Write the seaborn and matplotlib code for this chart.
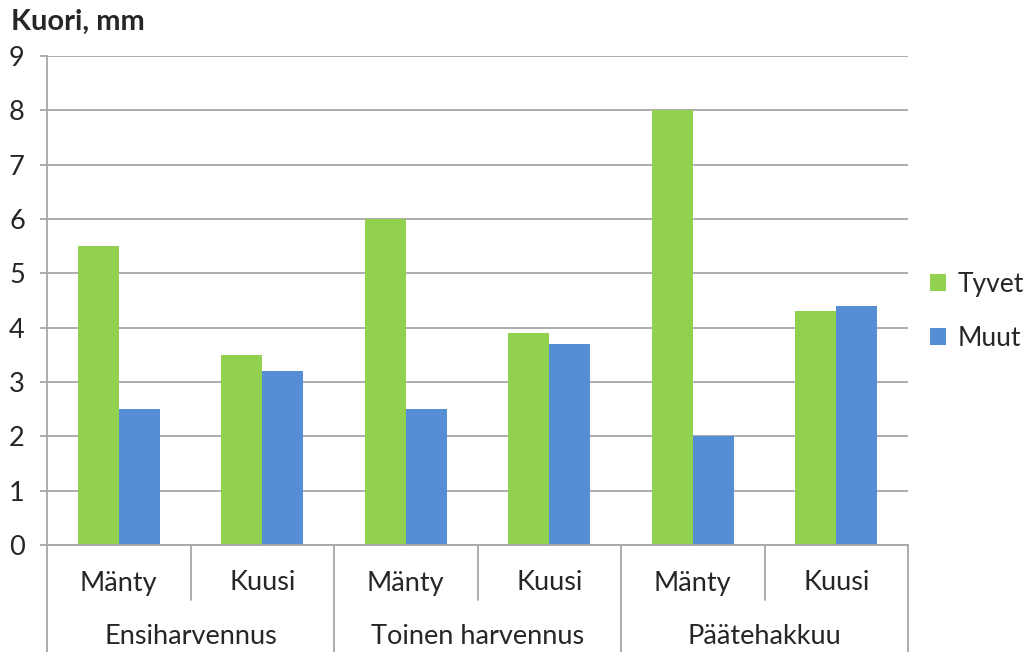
import pandas as pd
import numpy as np
import matplotlib.pyplot as plt
import seaborn as sns

# ── Data ───────────────────────────────────────────────────────────────────────
groups = ['Ensiharvennus', 'Toinen harvennus', 'Päätehakkuu']
species = ['Mänty', 'Kuusi']
tyvet = [5.5, 3.5, 6.0, 3.9, 8.0, 4.3]
muut = [2.5, 3.2, 2.5, 3.7, 2.0, 4.4]
series_names = ['Tyvet', 'Muut']
colors = ['#92D050', '#558ED5']
y_ticks = list(range(0, 10))

# ── Build frame ────────────────────────────────────────────────────────────────
cats = [f'{g}|{s}' for g in groups for s in species]
df = pd.DataFrame({
    'cat': cats * 2,
    'value': tyvet + muut,
    'series': [series_names[0]] * len(cats) + [series_names[1]] * len(cats),
})

sns.set_style('white')
plt.rcParams['font.family'] = ['Lato', 'DejaVu Sans']
fs = 19.5

fig = plt.figure(figsize=(10.29, 6.52), dpi=100)
ax = fig.add_axes([47 / 1029, 1 - 545 / 652, (908 - 47) / 1029, (545 - 56) / 652])

sns.barplot(data=df, x='cat', y='value', hue='series', order=cats,
            hue_order=series_names, palette=colors, width=0.57, gap=0,
            saturation=1, edgecolor='none', ax=ax)

grid_c = '#A6A6A6'
ax.set_ylim(0, 9)
ax.set_xlim(-0.5, len(cats) - 0.5)
ax.set_yticks(y_ticks)
ax.set_yticklabels([str(t) for t in y_ticks], fontsize=fs)
ax.yaxis.grid(True, color=grid_c, linewidth=1.3)
ax.set_axisbelow(True)
ax.tick_params(axis='y', which='major', length=5, width=1.3, color=grid_c,
               pad=11, left=True)
ax.set_xticks([])
ax.set_xlabel('')
ax.set_ylabel('')
for side in ['top', 'right', 'bottom']:
    ax.spines[side].set_visible(False)
ax.spines['left'].set_color(grid_c)
ax.spines['left'].set_linewidth(1.3)

# ── Two-level category axis ───────────────────────────────────────────────────
trans = ax.get_xaxis_transform()
ax.plot([-0.5, len(cats) - 0.5], [0, 0], transform=trans, color=grid_c,
        lw=1.3, clip_on=False)
inner_low = -(600 - 545) / (545 - 56)
outer_low = -(660 - 545) / (545 - 56)
for i in range(len(cats) + 1):
    x = i - 0.5
    low = outer_low if i % len(species) == 0 else inner_low
    ax.plot([x, x], [0, low], transform=trans, color=grid_c, lw=1.3,
            clip_on=False)
for i, c in enumerate(cats):
    ax.text(i, -(583 - 545) / (545 - 56), c.split('|')[1], transform=trans,
            ha='center', va='center', fontsize=fs)
for j, g in enumerate(groups):
    mid = j * len(species) + (len(species) - 1) / 2
    ax.text(mid, -(637 - 545) / (545 - 56), g, transform=trans,
            ha='center', va='center', fontsize=fs)

# ── Title & legend ────────────────────────────────────────────────────────────
fig.text(11 / 1029, 1 - 22 / 652, 'Kuori, mm', fontsize=21, fontweight='bold',
         ha='left', va='center')
ax.legend(loc='center left', bbox_to_anchor=(1.004, 0.478), frameon=False,
          fontsize=19, handlelength=0.6, handleheight=0.6, labelspacing=1.1,
          handletextpad=0.45, borderaxespad=0.3)

fig.savefig('out.png', dpi=100)
plt.close(fig)
